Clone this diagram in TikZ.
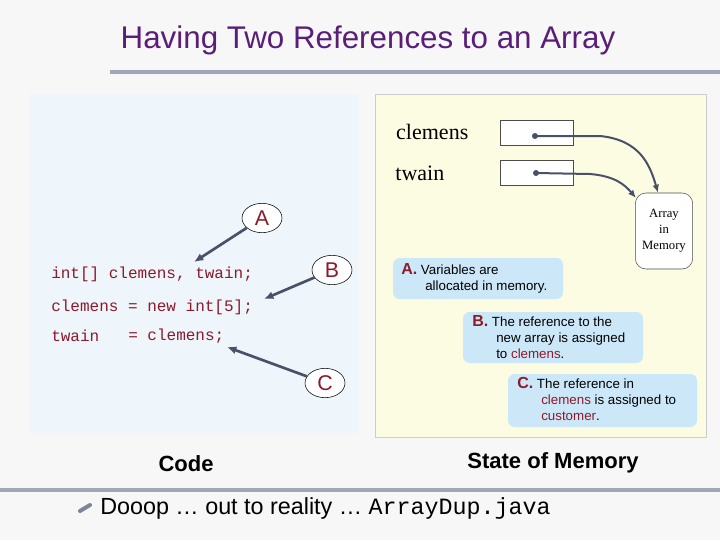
\documentclass[tikz,border=0pt]{standalone}
\usepackage{fontspec}
\setmainfont{Liberation Sans}
\newfontfamily\serifx{Liberation Serif}
\newfontfamily\monox{Liberation Mono}
\usetikzlibrary{arrows.meta,shapes.geometric}
\definecolor{ttl}{HTML}{5A1E78}
\definecolor{codered}{HTML}{8B1A2B}
\definecolor{arr}{HTML}{4A5068}
\definecolor{callbg}{HTML}{CCE8F8}
\definecolor{leftbg}{HTML}{EEF6FB}
\definecolor{rightbg}{HTML}{FCFCE2}
\definecolor{linegray}{HTML}{A0A8B8}
\begin{document}
\begin{tikzpicture}[x=0.75pt,y=-0.75pt,
  lab/.style={draw=black,fill=white,ellipse,inner sep=1pt,minimum width=30pt,minimum height=22pt,text=codered,font=\fontsize{16}{18}\selectfont},
  pt/.style={-{Latex[length=7pt,width=6pt]},arr,line width=2pt},
  code/.style={anchor=west,text=codered,font=\monox\fontsize{12}{14}\selectfont,inner sep=0},
  call/.style={fill=callbg,rounded corners=5pt,draw=none},
  calltxt/.style={anchor=north west,align=left,font=\fontsize{10}{12}\selectfont,inner sep=0},
  ref/.style={draw=black!70,fill=white,minimum width=55pt,minimum height=19pt,inner sep=0}]
\useasboundingbox (0,0) rectangle (720,540);
\fill[white!94!gray] (0,0) rectangle (720,540);
\node[text=ttl,font=\fontsize{23.5}{26}\selectfont] (title) at (368,40) {Having Two References to an Array};
\draw[linegray,line width=2.5pt] (110,72) -- (720,72);
\fill[leftbg] (30,94) rectangle (358,433);
\filldraw[fill=rightbg,draw=black!20] (375,94) rectangle (706,437);
% memory
\node[font=\serifx\fontsize{16.5}{18}\selectfont,anchor=east] (lc) at (473,132) {clemens};
\node[font=\serifx\fontsize{16.5}{18}\selectfont,anchor=east] (lt) at (449,173) {twain};
\node[ref] (bc) at (537,133) {};
\node[ref] (bt) at (537,173) {};
\fill[arr] (535,136) circle (3);
\fill[arr] (536,173) circle (3);
\node[draw=black!70,fill=white,rounded corners=8pt,minimum width=43pt,minimum height=57pt,align=center,font=\serifx\fontsize{9.5}{12}\selectfont,inner sep=1pt] (mem) at (664,231) {Array\\in\\Memory};
\coordinate (dc) at (535,136);
\coordinate (dt) at (536,173);
\draw[-{Latex[length=6pt,width=5pt]},arr,line width=1.5pt] (dc) -- (600,136) .. controls (640,140) and (650,165) .. (mem.north west -| 658,0);
\draw[-{Latex[length=6pt,width=5pt]},arr,line width=1.5pt] (dt) -- (590,174) .. controls (615,176) and (625,185) .. (636,198);
% code
\node[code] (c1) at (51,274) {int[] clemens, twain;};
\node[code] (c2) at (51,307) {clemens = new int[5];};
\node[code] (c3) at (51,336) {twain};
\node[code] (c3b) at (128,336) {= clemens;};
\node[lab] (A) at (262,218) {A};
\node[lab] (B) at (332,270) {B};
\node[lab] (C) at (325,383) {C};
\coordinate (ta) at (194,262);
\coordinate (tb) at (264,299);
\coordinate (tc) at (227,347);
\draw[pt] (A) -- (ta);
\draw[pt] (B) -- (tb);
\draw[pt] (C) -- (tc);
% callouts
\fill[call] (393,258) rectangle (563,299);
\node[calltxt] (ca) at (401,263) {\textcolor{codered}{\bfseries\fontsize{12}{12}\selectfont A.} Variables are\\\hspace*{18pt}allocated in memory.};
\fill[call] (463,312) rectangle (643,363);
\node[calltxt] (cb) at (472,315) {\textcolor{codered}{\bfseries\fontsize{12}{12}\selectfont B.} The reference to the\\\hspace*{18pt}new array is assigned\\\hspace*{18pt}to \textcolor{codered}{clemens}.};
\fill[call] (508,374) rectangle (697,427);
\node[calltxt] (cc) at (517,377) {\textcolor{codered}{\bfseries\fontsize{12}{12}\selectfont C.} The reference in\\\hspace*{18pt}\textcolor{codered}{clemens} is assigned to\\\hspace*{18pt}\textcolor{codered}{customer}.};
\node[font=\bfseries\fontsize{16.5}{18}\selectfont] (code) at (186,464) {Code};
\node[font=\bfseries\fontsize{16.5}{18}\selectfont] (state) at (553,463) {State of Memory};
\draw[linegray,line width=2.5pt] (0,490) -- (720,490);
\draw[arr!70,line width=3pt,line cap=round] (80,511) -- (90,505);
\node[anchor=west,font=\fontsize{17.5}{20}\selectfont,inner sep=0] (foot) at (100,508) {Dooop … out to reality … {\monox ArrayDup.java}};
\end{tikzpicture}
\end{document}
